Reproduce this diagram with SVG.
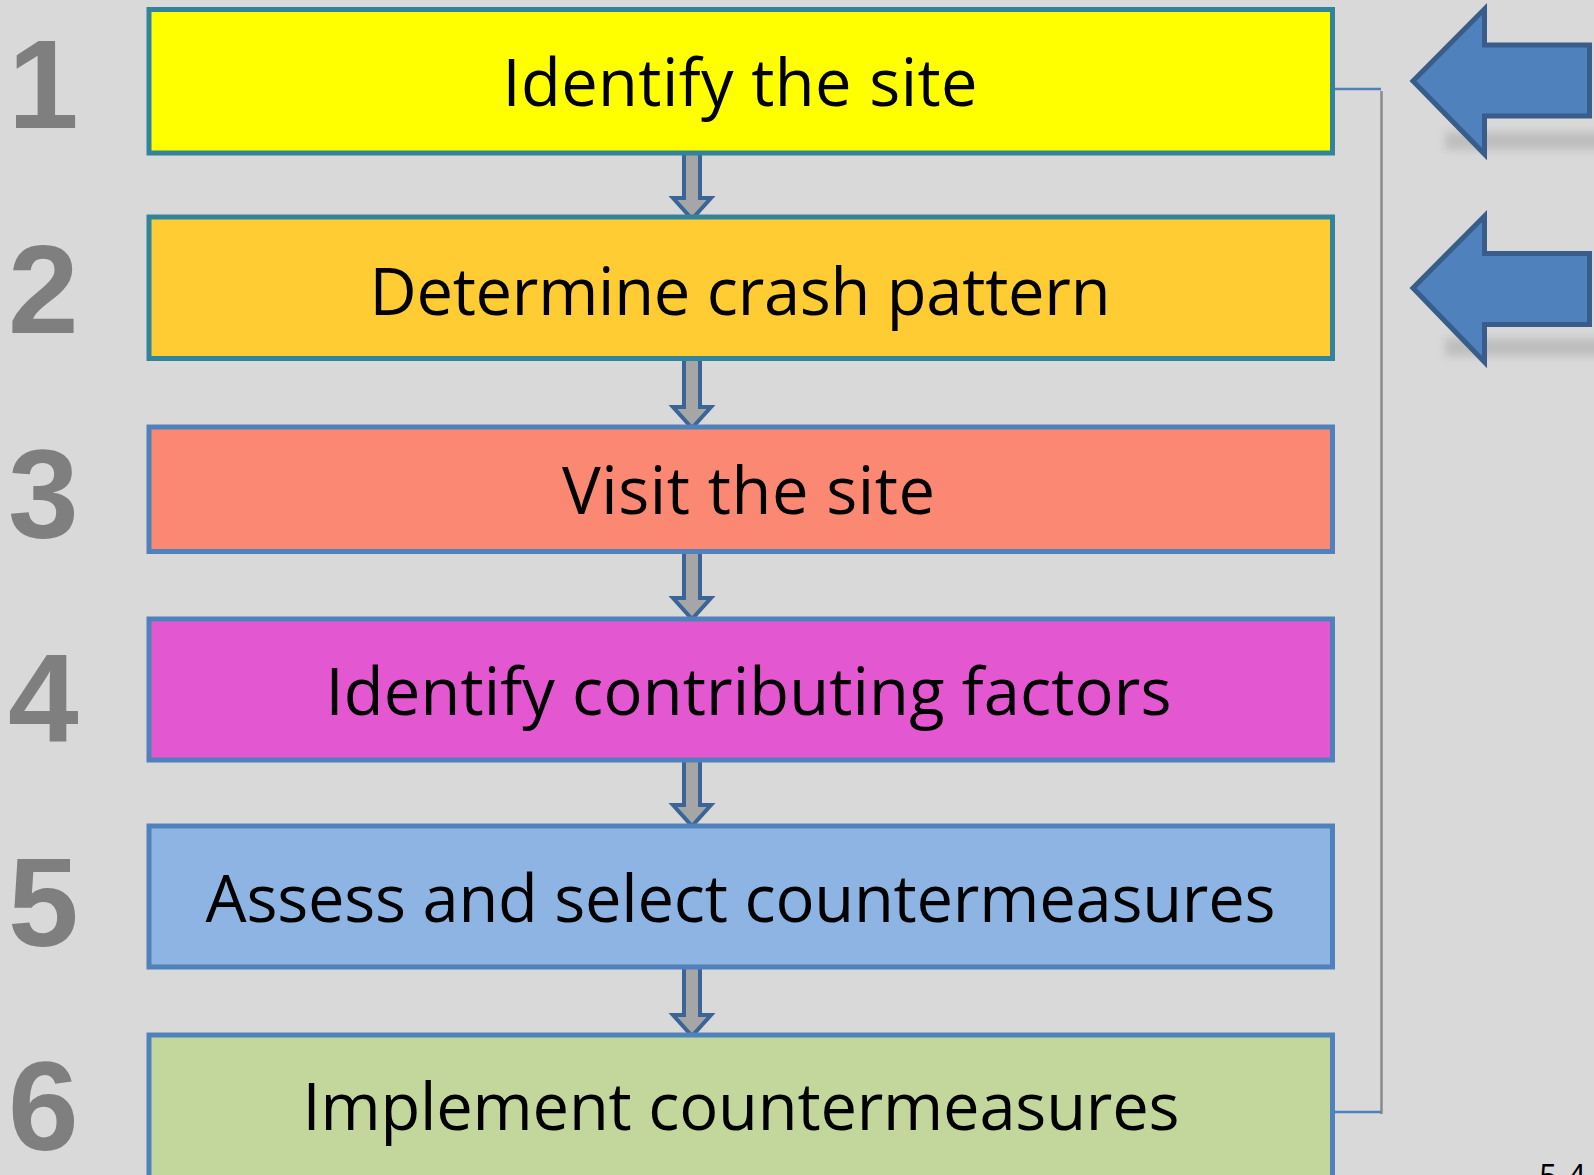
<svg xmlns="http://www.w3.org/2000/svg" width="1594" height="1175" viewBox="0 0 1594 1175">
  <style>
    .step { stroke-width: 5; }
    .teal { stroke: #31849b; }
    .blue { stroke: #4f81bd; }
    .label { font-family: "Open Sans", "Noto Sans", "Liberation Sans", sans-serif; font-size: 65px; fill: #000000; text-anchor: middle; }
    .num { font-family: "Liberation Sans", Arial, sans-serif; font-weight: bold; font-size: 127px; fill: #7f7f7f; }
    .down { fill: #a6a6a6; stroke: #3c6597; stroke-width: 4; stroke-linejoin: miter; }
    .back { fill: #4f81bd; stroke: #385d8a; stroke-width: 5; stroke-linejoin: miter; }
    .shadow { fill: #a8a8a8; opacity: 0.55; }
    .page { font-family: "Open Sans", "Noto Sans", "Liberation Sans", sans-serif; font-size: 32px; fill: #000000; }
  </style>
  <defs>
    <filter id="soft" x="-20%" y="-100%" width="140%" height="300%">
      <feGaussianBlur stdDeviation="4"/>
    </filter>
  </defs>

  <rect width="1594" height="1175" fill="#d9d9d9"/>

  <!-- step numbers -->
  <g id="numbers">
    <text class="num" x="8" y="128">1</text>
    <text class="num" x="8" y="333">2</text>
    <text class="num" x="8" y="538">3</text>
    <text class="num" x="8" y="742">4</text>
    <text class="num" x="8" y="946">5</text>
    <text class="num" x="8" y="1150">6</text>
  </g>

  <!-- feedback bracket on the right -->
  <g id="connectors">
    <path d="M1381.5,91 V1114" fill="none" stroke="#8a8a8a" stroke-width="2.5"/>
    <path d="M1335,89 H1381 M1335,1112 H1381" fill="none" stroke="#4f81bd" stroke-width="2.5"/>
    <!-- flow arrows between steps -->
    <path class="down" d="M684,151 L700,151 L700,198 L711,198 L692,219 L673,198 L684,198 Z"/>
    <path class="down" d="M684,357 L700,357 L700,407 L711,407 L692,428 L673,407 L684,407 Z"/>
    <path class="down" d="M684,551 L700,551 L700,598 L711,598 L692,619 L673,598 L684,598 Z"/>
    <path class="down" d="M684,759 L700,759 L700,805 L711,805 L692,826 L673,805 L684,805 Z"/>
    <path class="down" d="M684,966 L700,966 L700,1015 L711,1015 L692,1036 L673,1015 L684,1015 Z"/>
  </g>

  <g id="step1">
    <rect class="step teal" x="149" y="9.5" width="1183.5" height="143.5" fill="#ffff00"/>
    <text class="label" x="740" y="106" textLength="475">Identify the site</text>
  </g>
  <g id="step2">
    <rect class="step teal" x="149" y="217" width="1183.5" height="141.5" fill="#ffcc33"/>
    <text class="label" x="740" y="315" textLength="741">Determine crash pattern</text>
  </g>
  <g id="step3">
    <rect class="step blue" x="149" y="427" width="1183.5" height="124.5" fill="#fa8872"/>
    <text class="label" x="748.5" y="514" textLength="373">Visit the site</text>
  </g>
  <g id="step4">
    <rect class="step blue" x="149" y="619" width="1183.5" height="141" fill="#e357d1"/>
    <text class="label" x="748.5" y="714.5" textLength="846">Identify contributing factors</text>
  </g>
  <g id="step5">
    <rect class="step blue" x="149" y="826" width="1183.5" height="141" fill="#8eb4e3"/>
    <text class="label" x="740.5" y="922" textLength="1070">Assess and select countermeasures</text>
  </g>
  <g id="step6">
    <rect class="step blue" x="149" y="1035" width="1183.5" height="170" fill="#c3d69b"/>
    <text class="label" x="741" y="1130" textLength="877">Implement countermeasures</text>
  </g>

  <!-- entry-point arrows pointing at steps 1 and 2 -->
  <g id="entry1">
    <rect class="shadow" x="1445" y="132" width="160" height="18" filter="url(#soft)"/>
    <path class="back" d="M1413,81 L1484.5,9 L1484.5,45 L1589.5,45 L1589.5,116 L1484.5,116 L1484.5,154 Z"/>
  </g>
  <g id="entry2">
    <rect class="shadow" x="1445" y="338" width="160" height="18" filter="url(#soft)"/>
    <path class="back" d="M1413,288 L1484.5,216 L1484.5,253.5 L1589.5,253.5 L1589.5,324.5 L1484.5,324.5 L1484.5,362 Z"/>
  </g>

  <text class="page" x="1539" y="1188">5-4</text>
</svg>
